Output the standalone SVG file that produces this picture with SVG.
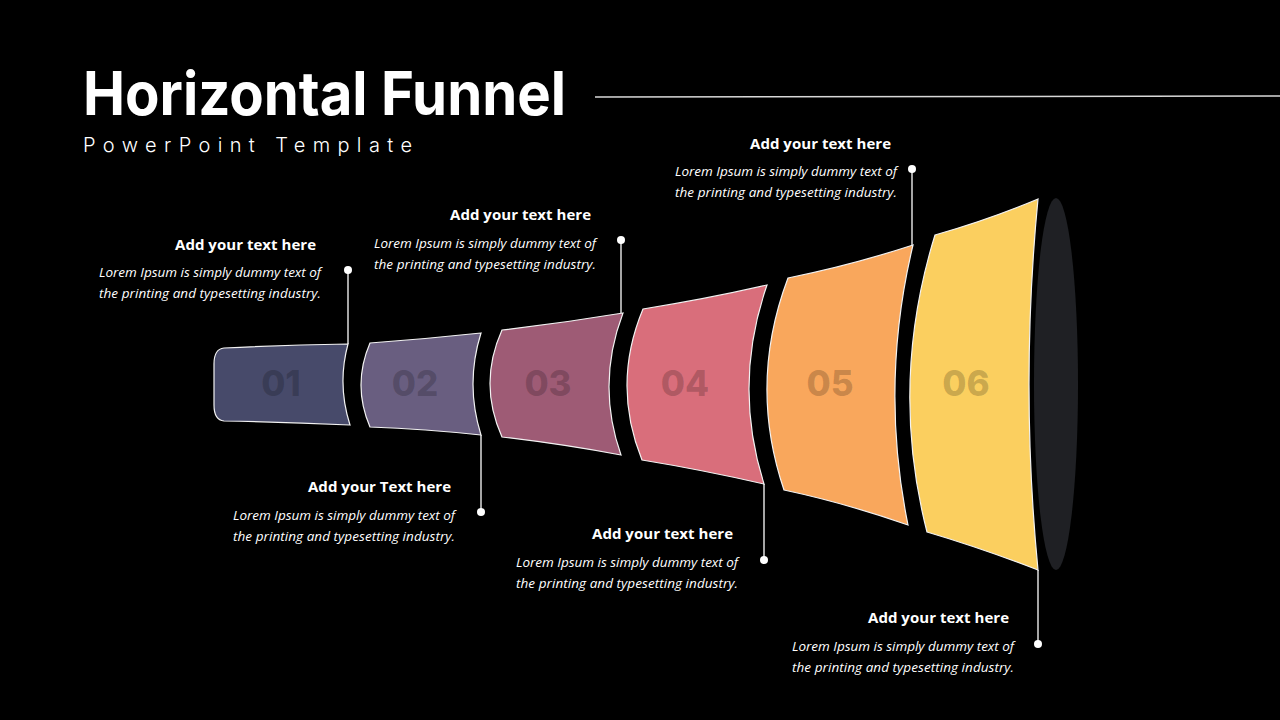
<svg xmlns="http://www.w3.org/2000/svg" width="1280" height="720" viewBox="0 0 1280 720">
<style>
.seg{stroke:#f2f2f2;stroke-width:1.2}
.num{font-family:Inter,"Open Sans",sans-serif;font-weight:800;font-size:35px;fill:#000;fill-opacity:0.2;text-anchor:middle}
.hd{font-family:"Open Sans","Liberation Sans",sans-serif;font-weight:700;font-size:15px;fill:#fff;text-anchor:end}
.bd{font-family:"Open Sans","Liberation Sans",sans-serif;font-style:italic;font-size:13.5px;fill:#fff;text-anchor:end}
.ln{stroke:#fff;stroke-width:1.3;fill:none}
.dot{fill:#fff}
</style>
<rect width="1280" height="720" fill="#000"/>
<g id="title">
<text x="83" y="115" font-family="Inter,'Liberation Sans',sans-serif" font-weight="700" font-size="60" fill="#fff" textLength="483" lengthAdjust="spacingAndGlyphs">Horizontal Funnel</text>
<text x="83" y="152" font-family="Inter,'Liberation Sans',sans-serif" font-weight="300" font-size="20" fill="#fff" textLength="329" lengthAdjust="spacing">PowerPoint Template</text>
<line x1="595" y1="97" x2="1280" y2="96" stroke="#d8d8d8" stroke-width="1.5"/>
</g>
<g id="seg1">
<path class="seg" fill="#474a6a" d="M224 348 Q286 345 348 344 Q337 384.5 350 425 Q286 422 224 421 Q214 420 214 405 L214 364 Q214 349 224 348 Z"/>
<text class="num" x="281" y="396">01</text>
</g>
<g id="seg2">
<path class="seg" fill="#695e80" d="M370 343 Q425 339 481 333 Q465 384 481 435 Q425 429 370 427 Q352 385 370 343 Z"/>
<text class="num" x="415" y="396">02</text>
</g>
<g id="seg3">
<path class="seg" fill="#9e5b75" d="M502 330 Q563 323 623 313 Q596 384 621 455 Q562 444 502 437 Q478 383.5 502 330 Z"/>
<text class="num" x="548" y="396">03</text>
</g>
<g id="seg4">
<path class="seg" fill="#d96e7b" d="M643 309 Q706 299 767 285 Q732.5 384.5 764 484 Q703 470 642 460 Q611.5 384.5 643 309 Z"/>
<text class="num" x="685" y="396">04</text>
</g>
<g id="seg5">
<path class="seg" fill="#f9a75c" d="M788 278 Q852 265 913 245 Q879.5 385 908 525 Q845 503 784 490 Q748 384 788 278 Z"/>
<text class="num" x="830" y="396">05</text>
</g>
<g id="seg6">
<path class="seg" fill="#fbcf5f" d="M935 235 Q988 220 1038 199 Q1020 384.5 1038 570 Q981 548 927 532 Q889 383.5 935 235 Z"/>
<text class="num" x="966" y="396">06</text>
</g>
<g id="mouth">
<ellipse cx="1056" cy="384" rx="22" ry="186" fill="#1f2024"/>
</g>
<g id="connectors">
<line class="ln" x1="348" y1="270" x2="348" y2="344"/><circle class="dot" cx="348" cy="270" r="4"/>
<line class="ln" x1="481" y1="435" x2="481" y2="512"/><circle class="dot" cx="481" cy="512" r="4"/>
<line class="ln" x1="621" y1="240" x2="621" y2="313"/><circle class="dot" cx="621" cy="240" r="4"/>
<line class="ln" x1="764" y1="484" x2="764" y2="560"/><circle class="dot" cx="764" cy="560" r="4"/>
<line class="ln" x1="912" y1="169" x2="912" y2="245"/><circle class="dot" cx="912" cy="169" r="4"/>
<line class="ln" x1="1038" y1="570" x2="1038" y2="644"/><circle class="dot" cx="1038" cy="644" r="4"/>
</g>
<g id="label1">
<text class="hd" x="316" y="250" textLength="141">Add your text here</text>
<text class="bd" x="321" y="277" textLength="222">Lorem Ipsum is simply dummy text of</text>
<text class="bd" x="321" y="298" textLength="222">the printing and typesetting industry.</text>
</g>
<g id="label2">
<text class="hd" x="451" y="492" textLength="143">Add your Text here</text>
<text class="bd" x="455" y="520" textLength="222">Lorem Ipsum is simply dummy text of</text>
<text class="bd" x="455" y="541" textLength="222">the printing and typesetting industry.</text>
</g>
<g id="label3">
<text class="hd" x="591" y="220" textLength="141">Add your text here</text>
<text class="bd" x="596" y="248" textLength="222">Lorem Ipsum is simply dummy text of</text>
<text class="bd" x="596" y="269" textLength="222">the printing and typesetting industry.</text>
</g>
<g id="label4">
<text class="hd" x="733" y="539" textLength="141">Add your text here</text>
<text class="bd" x="738" y="567" textLength="222">Lorem Ipsum is simply dummy text of</text>
<text class="bd" x="738" y="588" textLength="222">the printing and typesetting industry.</text>
</g>
<g id="label5">
<text class="hd" x="891" y="149" textLength="141">Add your text here</text>
<text class="bd" x="897" y="176" textLength="222">Lorem Ipsum is simply dummy text of</text>
<text class="bd" x="897" y="197" textLength="222">the printing and typesetting industry.</text>
</g>
<g id="label6">
<text class="hd" x="1009" y="623" textLength="141">Add your text here</text>
<text class="bd" x="1014" y="651" textLength="222">Lorem Ipsum is simply dummy text of</text>
<text class="bd" x="1014" y="672" textLength="222">the printing and typesetting industry.</text>
</g>
</svg>
